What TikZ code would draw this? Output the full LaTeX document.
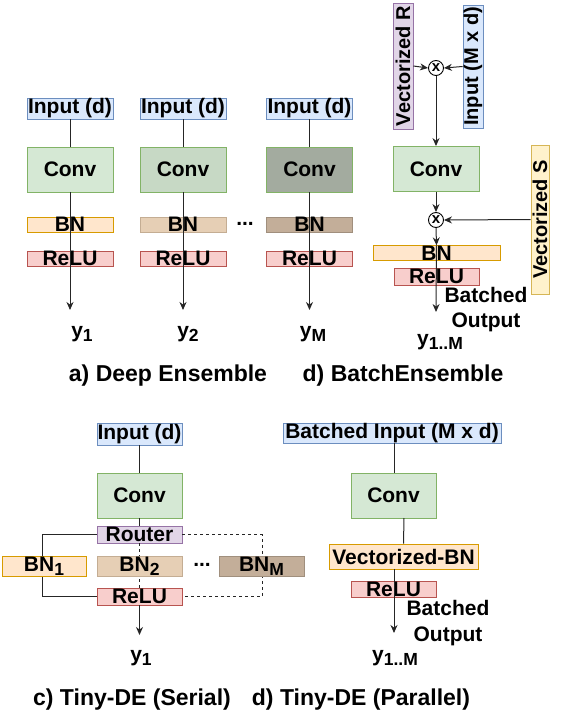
\documentclass[tikz,border=0pt]{standalone}
\usepackage{fontspec}
\setmainfont{Liberation Sans}
\usetikzlibrary{arrows.meta}
\definecolor{inF}{HTML}{DAE8FC}\definecolor{inD}{HTML}{6C8EBF}
\definecolor{cvF}{HTML}{D5E8D4}\definecolor{cvD}{HTML}{82B366}
\definecolor{cvFb}{HTML}{C7D9C5}\definecolor{cvFc}{HTML}{A3AB9F}
\definecolor{bnF}{HTML}{FFE6CC}\definecolor{bnD}{HTML}{D79B00}
\definecolor{bnFb}{HTML}{E6CFB5}\definecolor{bnDb}{HTML}{C4AD93}
\definecolor{bnFc}{HTML}{C3AE99}\definecolor{bnDc}{HTML}{A08F7D}
\definecolor{reF}{HTML}{F8CECC}\definecolor{reD}{HTML}{B85450}
\definecolor{roF}{HTML}{E1D5E7}\definecolor{roD}{HTML}{9673A6}
\definecolor{sF}{HTML}{FFF2CC}\definecolor{sD}{HTML}{D6B656}
\newcommand{\mysub}[1]{\raisebox{-0.4ex}{\fontsize{17.5}{17.5}\selectfont #1}}
\tikzset{
  lbl/.style={font=\fontsize{21}{23}\selectfont\bfseries, inner sep=0pt},
  captxt/.style={font=\fontsize{23}{25}\selectfont\bfseries, inner sep=0pt},
  bx/.style={draw, line width=0.9pt, inner sep=0pt, font=\fontsize{21}{23}\selectfont\bfseries},
  rbx/.style={bx, font=\fontsize{20}{22}\selectfont\bfseries},
  inbox/.style={bx, fill=inF, draw=inD},
  convbox/.style={bx, fill=cvF, draw=cvD, minimum width=86pt, minimum height=45pt},
  bnbox/.style={bx, fill=bnF, draw=bnD},
  relubox/.style={bx, fill=reF, draw=reD},
  conn/.style={line width=1pt, draw=black!85},
  arr/.style={conn, -{Stealth[length=8pt,width=7pt]}},
  mult/.style={circle, draw, line width=0.9pt, fill=white, minimum size=15pt, inner sep=0pt, font=\fontsize{15}{15}\selectfont\bfseries},
}
\begin{document}
\begin{tikzpicture}[x=1pt,y=-1pt]
\useasboundingbox (0,0) rectangle (582,723);
% ===== a) Deep Ensemble =====
\foreach \c/\x/\cfl/\bfl/\bdl/\yl/\yx in {1/70/cvF/bnF/bnD/1/82, 2/183/cvFb/bnFb/bnDb/2/188, 3/309.5/cvFc/bnFc/bnDc/M/313}{
  \node[inbox, minimum width=86pt, minimum height=21pt] (in\c) at (\x,108.5) {Input (d)};
  \node[convbox, fill=\cfl] (conv\c) at (\x,169.5) {Conv};
  \node[bx, fill=\bfl, draw=\bdl, minimum width=86pt, minimum height=15pt] (bn\c) at (\x,224.5) {BN};
  \node[relubox, minimum width=86pt, minimum height=15pt] (relu\c) at (\x,258.5) {ReLU};
  \coordinate (end\c) at (\x,310);
  \node[lbl] (y\c) at (\yx,334) {y\mysub{\yl}};
  \draw[conn] (in\c.south) -- (conv\c.north);
  \draw[arr] (conv\c.south) -- (end\c);
}
\node[lbl] (dotsA) at (245,224) {...};
\node[captxt] (capA) at (168,376) {a) Deep Ensemble};
% ===== d) BatchEnsemble =====
\node[rbx, fill=roF, draw=roD, rotate=90, minimum width=126pt, minimum height=20pt] (vr) at (403,66) {Vectorized R};
\node[rbx, fill=inF, draw=inD, rotate=90, minimum width=123pt, minimum height=20pt] (inMd) at (473,66.5) {Input (M x d)};
\node[mult] (m1) at (436,68) {x};
\node[convbox] (convB) at (436,169) {Conv};
\node[mult] (m2) at (436,220) {x};
\node[rbx, fill=sF, draw=sD, rotate=90, minimum width=149pt, minimum height=18pt] (vs) at (540,219.5) {Vectorized S};
\node[bnbox, minimum width=127pt, minimum height=14pt] (bnB) at (436.5,253) {BN};
\node[relubox, minimum width=85pt, minimum height=17pt] (reluB) at (436.5,276.5) {ReLU};
\coordinate (endB) at (436,312);
\draw[arr] (vr.south) -- (m1.west);
\draw[arr] (inMd.north) -- (m1.east);
\draw[arr] (m1.south) -- (convB.north);
\draw[arr] (convB.south) -- (m2.north);
\draw[arr] (vs.north) -- (m2.east);
\draw[arr] (m2.south) -- (bnB.north);
\draw[arr] (bnB.north) -- (endB);
\node[lbl, align=center, font=\fontsize{21}{25}\selectfont\bfseries] (boB) at (486,309.5) {Batched\\Output};
\node[lbl] (yB) at (440,342) {y\mysub{1..M}};
\node[captxt] (capB) at (403,376) {d) BatchEnsemble};
% ===== c) Tiny-DE (Serial) =====
\node[inbox, minimum width=85pt, minimum height=22pt] (inC) at (139.5,434) {Input (d)};
\node[convbox, minimum width=85pt] (convC) at (139.5,495.5) {Conv};
\node[bx, fill=roF, draw=roD, minimum width=85pt, minimum height=17pt] (router) at (139.5,534.5) {Router};
\node[relubox, minimum width=85pt, minimum height=17pt] (reluC) at (139.5,596.5) {ReLU};
\coordinate (lA) at (42,534.5);
\coordinate (lB) at (42,596.5);
\coordinate (rA) at (262,534.5);
\coordinate (rB) at (262,596.5);
\draw[conn] (router.west) -- (lA) -- (lB) -- (reluC.west);
\draw[conn, dashed, dash pattern=on 3pt off 3pt] (router.east) -- (rA) -- (rB) -- (reluC.east);
\draw[conn, dashed, dash pattern=on 3pt off 3pt] (router.south) -- (reluC.north);
\draw[conn] (inC.south) -- (convC.north);
\draw[conn] (convC.south) -- (router.north);
\node[bnbox, minimum width=84pt, minimum height=20pt] (bn1) at (44,566) {BN\mysub{1}};
\node[bx, fill=bnFb, draw=bnDb, minimum width=85pt, minimum height=20pt] (bn2) at (139.5,566) {BN\mysub{2}};
\node[bx, fill=bnFc, draw=bnDc, minimum width=85pt, minimum height=20pt] (bnM) at (261.5,566) {BN\mysub{M}};
\node[lbl] (dotsC) at (202,565) {...};
\coordinate (endC) at (139.5,635);
\draw[arr] (reluC.south) -- (endC);
\node[lbl] (yC) at (141,658) {y\mysub{1}};
\node[captxt] (capC) at (132,700) {c) Tiny-DE (Serial)};
% ===== d) Tiny-DE (Parallel) =====
\node[inbox, minimum width=218pt, minimum height=19pt] (inD) at (392,433.5) {Batched Input (M x d)};
\node[convbox, minimum width=85pt] (convD) at (393.5,495.5) {Conv};
\node[bnbox, minimum width=149pt, minimum height=25pt] (vbn) at (403.5,556.5) {Vectorized-BN};
\node[relubox, minimum width=85pt, minimum height=16pt] (reluD) at (393.5,589) {ReLU};
\coordinate (endD) at (394,633);
\draw[conn] (394,443) -- (394,473);
\draw[conn] (404,518) -- (vbn.north);
\draw[arr] (394,569) -- (endD);
\node[lbl, align=center, font=\fontsize{21}{26}\selectfont\bfseries] (boD) at (448,623) {Batched\\Output};
\node[lbl] (yD) at (395,658) {y\mysub{1..M}};
\node[captxt] (capD) at (361,700) {d) Tiny-DE (Parallel)};
\end{tikzpicture}
\end{document}
